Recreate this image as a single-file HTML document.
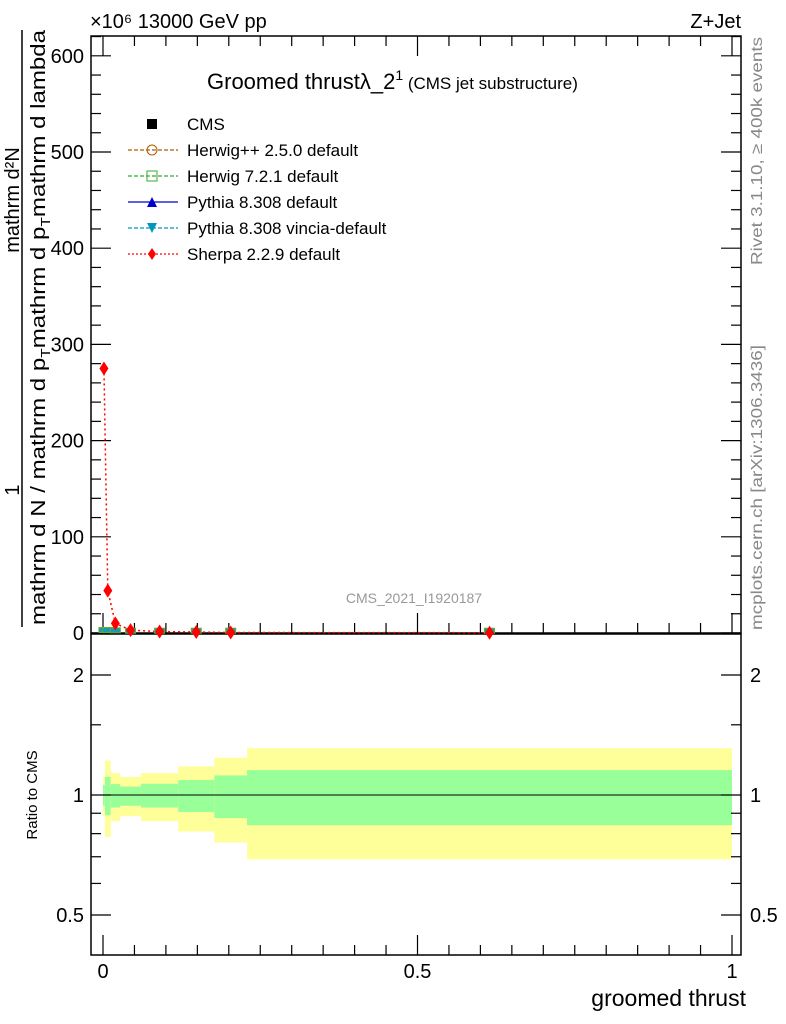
<!DOCTYPE html>
<html><head><meta charset="utf-8"><style>
body{margin:0;background:#fff}
svg{display:block;font-family:"Liberation Sans",sans-serif}
</style></head><body>
<svg id="c" width="786" height="1024">
<g id="bands"></g>
<g id="frames" fill="none" stroke="#000" stroke-width="1.5">
<rect x="91" y="36" width="650" height="597"/>
<rect x="91" y="634" width="650" height="321"/>
</g>
<g id="ticks" stroke="#000" stroke-width="1.2"></g>
<g id="marks"></g>
<g id="labels" font-size="20"></g>
<text x="90" y="28" font-size="20">×10⁶ 13000 GeV pp</text>
<text x="741" y="28" font-size="20" text-anchor="end">Z+Jet</text>
<text x="207" y="89" font-size="22">Groomed thrustλ_2<tspan font-size="14" dy="-9">1</tspan><tspan font-size="17" dy="9"> (CMS jet substructure)</tspan></text>
<text x="414" y="603" font-size="14" fill="#999" text-anchor="middle">CMS_2021_I1920187</text>
<text x="746" y="1006" font-size="23" text-anchor="end">groomed thrust</text>
<text transform="translate(37,795) rotate(-90)" font-size="15" text-anchor="middle">Ratio to CMS</text>
<text transform="translate(762,265) rotate(-90)" font-size="16" fill="#888" textLength="228" lengthAdjust="spacingAndGlyphs">Rivet 3.1.10, ≥ 400k events</text>
<text transform="translate(762,630) rotate(-90)" font-size="16" fill="#888" textLength="285" lengthAdjust="spacingAndGlyphs">mcplots.cern.ch [arXiv:1306.3436]</text>
<g font-size="20">
<line x1="22" y1="30" x2="22" y2="627" stroke="#000" stroke-width="1.5"/>
<text transform="translate(19,490) rotate(-90)" text-anchor="middle">1</text>
<text transform="translate(19,200) rotate(-90)" text-anchor="middle">mathrm d²N</text>
<text transform="translate(45,625) rotate(-90)" textLength="595" lengthAdjust="spacingAndGlyphs">mathrm d N / mathrm d p<tspan font-size="13" dy="5">T</tspan><tspan dy="-5">mathrm d p</tspan><tspan font-size="13" dy="5">T</tspan><tspan dy="-5">mathrm d lambda</tspan></text>
</g>
<g id="legend" font-size="17"></g>
</svg>
<script>
const edges=[0,0.003,0.0123,0.027,0.0605,0.1195,0.177,0.229,1.0];
const sherpa=[275,44,10,3,1.5,1,0.5,0.3];
const cms=[1.5,1.5,1.2,0.8,0.8,0.8,0.8,0.8];
const yelHi=[1.11,1.22,1.135,1.11,1.135,1.18,1.24,1.31];
const yelLo=[0.885,0.785,0.86,0.885,0.86,0.81,0.76,0.69];
const grnHi=[1.06,1.11,1.065,1.05,1.067,1.09,1.12,1.155];
const grnLo=[0.94,0.89,0.93,0.94,0.93,0.906,0.875,0.84];
const yTicks=[0,100,200,300,400,500,600];
const xTicks=[0,0.5,1];
const rTicks=[0.5,1,2];
const NS="http://www.w3.org/2000/svg";
const X=v=>103+v*629, Y=v=>633-v*0.962, R=v=>795-120*Math.log2(v);
function mk(p,t,a){const e=document.createElementNS(NS,t);for(const k in a)e.setAttribute(k,a[k]);document.getElementById(p).appendChild(e);return e;}
for(let i=0;i<8;i++){
 let e=mk('bands','rect',{x:X(edges[i]),y:R(yelHi[i]),width:X(edges[i+1])-X(edges[i]),height:R(yelLo[i])-R(yelHi[i]),fill:'#ffff99'});
 
 
 let g=mk('bands','rect',{x:X(edges[i]),y:R(grnHi[i]),width:X(edges[i+1])-X(edges[i]),height:R(grnLo[i])-R(grnHi[i]),fill:'#99ff99'});
 
 
}
let l1=mk('bands','line',{x1:91,x2:741,y1:R(1),y2:R(1),stroke:'#000','stroke-width':1});


for(let v=0;v<=620;v+=20){const L=v%100==0?20:10;for(const [a,b] of [[91,91+L],[741,741-L]])mk('ticks','line',{x1:a,x2:b,y1:Y(v),y2:Y(v)});}
yTicks.forEach(v=>{let t=mk('labels','text',{x:84,y:Y(v)+7,'text-anchor':'end'});t.textContent=v;
 
 });
for(let v=-0.0;v<=1.01;v+=0.05){const maj=Math.abs(v*2-Math.round(v*2))<1e-6;const L=maj?20:10;
 mk('ticks','line',{x1:X(v),x2:X(v),y1:36,y2:36+L});mk('ticks','line',{x1:X(v),x2:X(v),y1:633,y2:633-L});
 mk('ticks','line',{x1:X(v),x2:X(v),y1:955,y2:955-L});}
xTicks.forEach(v=>{let t=mk('labels','text',{x:X(v),y:978,'text-anchor':'middle'});t.textContent=v;
 
 });
[0.5,0.6,0.7,0.8,0.9,1,1.5,2].forEach(v=>{const L=(v==0.5||v==1||v==2)?20:10;mk('ticks','line',{x1:91,x2:91+L,y1:R(v),y2:R(v)});mk('ticks','line',{x1:741,x2:741-L,y1:R(v),y2:R(v)});});
rTicks.forEach(v=>{for(const [x,a] of [[84,'end'],[750,'start']]){let t=mk('labels','text',{x:x,y:R(v)+7,'text-anchor':a});t.textContent=v;
 
 }});
const cx=i=>X((edges[i]+edges[i+1])/2);
let pts=sherpa.map((v,i)=>cx(i)+','+Y(v)).join(' ');
let pl=mk('marks','polyline',{points:pts,fill:'none',stroke:'#f00','stroke-width':1.5,'stroke-dasharray':'2,3'});


cms.forEach((v,i)=>{
 let r=mk('marks','rect',{x:cx(i)-5,y:Y(v)-4,width:10,height:5,fill:'#1a9ab0',stroke:'#6a3',"stroke-width":1});
 
 
});
sherpa.forEach((v,i)=>{const x=cx(i),y=Y(v);
 let d=mk('marks','polygon',{points:`${x},${y-7} ${x+4.5},${y} ${x},${y+7} ${x-4.5},${y}`,fill:'#f00'});
 
 });
const legNames=["CMS","Herwig++ 2.5.0 default","Herwig 7.2.1 default","Pythia 8.308 default","Pythia 8.308 vincia-default","Sherpa 2.2.9 default"];
const legCols=["#000","#b35900","#3a3","#00c","#09b","#f00"];
legNames.forEach((n,i)=>{const y=124+i*26;
 let t=mk('legend','text',{x:187,y:y+6});t.textContent=n;
 
 
 if(i>0)mk('legend','line',{x1:128,x2:178,y1:y,y2:y,stroke:legCols[i],'stroke-width':1.2,'stroke-dasharray':i==3?'':(i==5?'2,2':'4,2')});
 if(i==0)mk('legend','rect',{x:147,y:y-5,width:10,height:10,fill:'#000'});
 if(i==1)mk('legend','circle',{cx:152,cy:y,r:5,fill:'none',stroke:legCols[i]});
 if(i==2)mk('legend','rect',{x:147,y:y-5,width:10,height:10,fill:'none',stroke:legCols[i]});
 if(i==3)mk('legend','polygon',{points:`147,${y+5} 157,${y+5} 152,${y-5}`,fill:legCols[i]});
 if(i==4)mk('legend','polygon',{points:`147,${y-5} 157,${y-5} 152,${y+5}`,fill:legCols[i]});
 if(i==5)mk('legend','polygon',{points:`152,${y-6} 156,${y} 152,${y+6} 148,${y}`,fill:legCols[i]});
});
</script>
</body></html>
